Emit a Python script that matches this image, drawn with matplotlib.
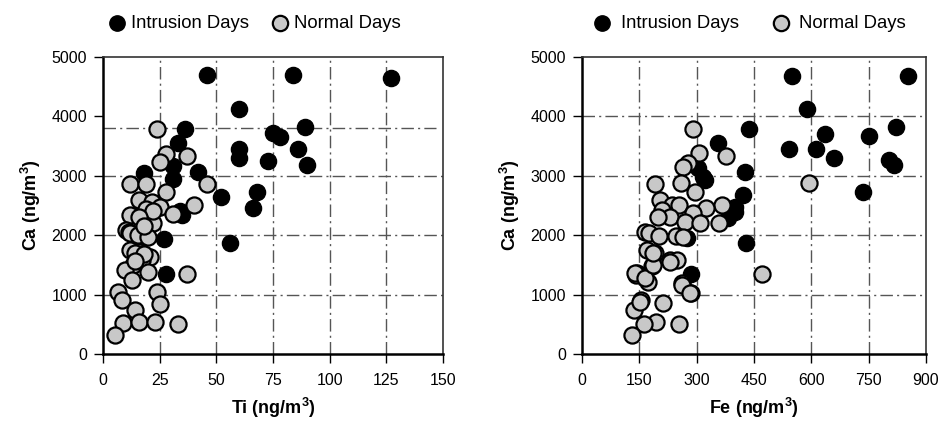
import matplotlib.pyplot as plt

# Ti vs Ca
ti_intr = [46, 84, 127, 60, 36, 89, 33, 75, 78, 60, 86, 60, 73, 90, 31, 18, 42, 31,
           52, 68, 66, 34, 35, 27, 56, 28]
ca_ti_intr = [4690, 4690, 4650, 4120, 3790, 3815, 3560, 3715, 3660, 3445, 3445, 3295,
              3255, 3180, 3160, 3040, 3060, 2950, 2650, 2730, 2465, 2400, 2340, 1930,
              1865, 1345]
ti_norm = [24, 37, 28, 25, 12, 19, 46, 28, 40, 16, 21.5, 25, 19, 12, 31, 22, 10, 11.6,
           12, 15.5, 20, 12, 16, 20.7, 17, 13.4, 20, 9.7, 37, 13, 6.7, 24, 8.2, 25, 14,
           9, 16, 23, 33, 5.3, 14, 18, 14, 22, 16, 18]
ca_ti_norm = [3780, 3335, 3365, 3235, 2860, 2870, 2870, 2735, 2510, 2600, 2565, 2480,
              2435, 2340, 2357, 2210, 2095, 2060, 2030, 2000, 1975, 1750, 1725, 1640,
              1580, 1500, 1385, 1410, 1350, 1245, 1050, 1050, 910, 840, 740, 515, 535,
              545, 505, 320, 1700, 1680, 1560, 2400, 2300, 2150]

# Fe vs Ca
fe_intr = [549, 852, 588, 437, 636, 822, 752, 542, 612, 659, 804, 816, 355, 426, 304,
           317, 322, 734, 422, 400, 400, 383, 429, 284, 275]
ca_fe_intr = [4686, 4686, 4119, 3782, 3704, 3815, 3670, 3445, 3445, 3294, 3266, 3182,
              3557, 3070, 3126, 2985, 2929, 2733, 2677, 2480, 2396, 2284, 1864, 1347,
              1950]
fe_norm = [290, 377, 307, 278, 265, 191, 259, 296, 595, 366, 204, 235, 255, 324, 209,
           230, 290, 270, 309, 359, 200, 165, 174, 202, 246, 169, 191, 230, 248, 182,
           143, 470, 261, 284, 213, 254, 194, 162, 130, 137, 154, 172, 141, 264, 139,
           165, 187, 230, 261, 283, 152, 187]
ca_fe_norm = [3782, 3333, 3378, 3220, 3153, 2862, 2873, 2733, 2873, 2508, 2593, 2508,
              2508, 2452, 2424, 2312, 2368, 2228, 2199, 2199, 2312, 2059, 2031, 1987,
              1987, 1751, 1695, 1582, 1582, 1481, 1358, 1347, 1190, 1032, 853, 505, 544,
              505, 320, 741, 909, 1217, 1330, 1970, 1358, 1274, 1498, 1554, 1162, 1022,
              880, 1695]

plt.rcParams['font.family'] = ['Liberation Sans', 'DejaVu Sans']
plt.rcParams['mathtext.default'] = 'regular'

fig = plt.figure(figsize=(9.43, 4.21), dpi=100)
ax1 = fig.add_axes([0.1092, 0.1591, 0.3606, 0.7055])
ax2 = fig.add_axes([0.6172, 0.1591, 0.3648, 0.7055])

grid_style = dict(color='#555555', lw=1, ls=(0, (9, 3, 1.5, 3)), zorder=1)


def setup(ax, xmax, xstep, hlines, xlabel):
    ax.set_xlim(0, xmax)
    ax.set_ylim(0, 5000)
    ax.set_xticks(range(0, xmax + 1, xstep))
    ax.set_yticks(range(0, 5001, 1000))
    for x in range(xstep, xmax, xstep):
        ax.axvline(x, **grid_style)
    for y, x1 in hlines:
        ax.plot([0, x1], [y, y], **grid_style)
    ax.tick_params(direction='out', length=6.5, width=1, labelsize=11.5)
    ax.tick_params(axis='x', pad=7)
    ax.tick_params(axis='y', pad=5)
    for s in ['left', 'bottom']:
        ax.spines[s].set_linewidth(1.8)
    for s in ['top', 'right']:
        ax.spines[s].set_linewidth(1.2)
        ax.spines[s].set_color('#333333')
    ax.set_xlabel(xlabel, fontsize=13, fontweight='bold', labelpad=6)
    ax.set_ylabel('Ca (ng/m$^3$)', fontsize=13, fontweight='bold', labelpad=6)


setup(ax1, 150, 25, [(1000, 150), (2000, 150), (3000, 150), (3800, 147)],
      'Ti (ng/m$^3$)')
setup(ax2, 900, 150, [(1000, 900), (2000, 900), (3000, 900), (4000, 900)],
      'Fe (ng/m$^3$)')

for ax, xi, yi, xn, yn, lx, tp, cs in [
        (ax1, ti_intr, ca_ti_intr, ti_norm, ca_ti_norm, 0.270, 0.25, 1.18),
        (ax2, fe_intr, ca_fe_intr, fe_norm, ca_fe_norm, 0.795, 0.5, 1.77)]:
    ax.scatter(xi, yi, s=135, c='black', edgecolors='black', linewidths=1,
               zorder=3, label='Intrusion Days', clip_on=False)
    ax.scatter(xn, yn, s=135, c='#c8c8c8', edgecolors='black', linewidths=1.6,
               zorder=4, label='Normal Days', clip_on=False)
    fig.legend(handles=ax.collections, loc='center', bbox_to_anchor=(lx, 0.945),
               ncol=2, frameon=False, handlelength=1.0, handletextpad=tp,
               columnspacing=cs, prop={'size': 13.3}, markerscale=0.95)

fig.savefig('out.png', dpi=100)
